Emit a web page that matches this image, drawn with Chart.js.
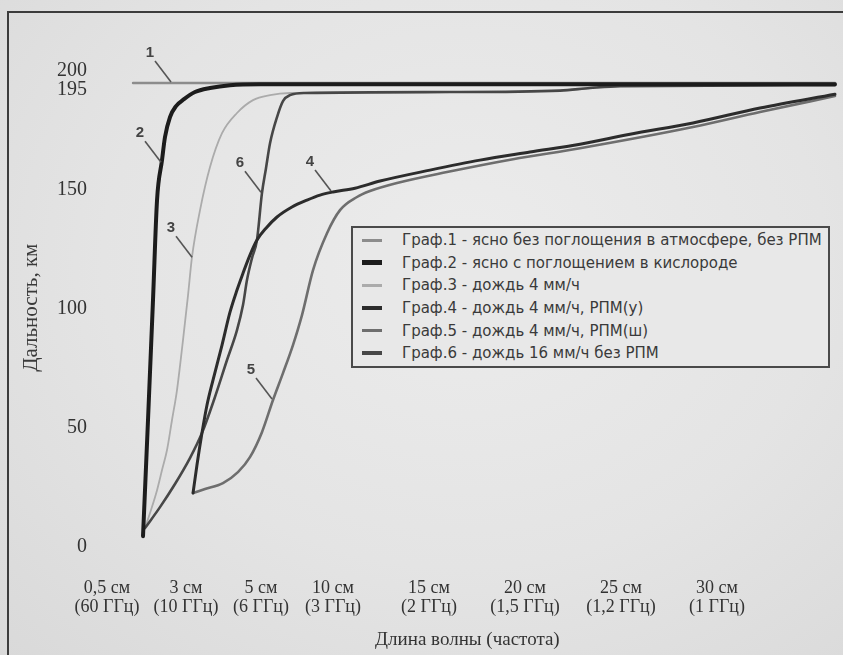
<!DOCTYPE html>
<html>
<head>
<meta charset="utf-8">
<script src="https://cdn.jsdelivr.net/npm/chart.js@4/dist/chart.umd.min.js"></script>
<style>
html,body{margin:0;padding:0;background:#e2e2e2;}
#wrap{position:relative;width:843px;height:655px;overflow:hidden;
  background:radial-gradient(ellipse at 55% 40%, #ececec 0%, #e4e4e4 55%, #d9d9d9 100%);}
#frame{position:absolute;left:7px;top:11px;right:-10px;bottom:-10px;border-left:2px solid #3c3c3c;border-top:2px solid #3c3c3c;}
#c{position:absolute;left:0;top:0;}
#legend{position:absolute;left:351px;top:226px;width:475px;height:137px;padding-top:1px;
  border:2px solid #4a4a4a;background:#e8e8e8;font-family:"DejaVu Sans",sans-serif;font-size:15px;color:#3a3a3a;}
#legend .row{height:22.6px;display:flex;align-items:center;white-space:nowrap;}
#legend .sw{width:20px;margin-left:9px;margin-right:20px;}
</style>
</head>
<body>
<div id="wrap">
  <canvas id="c" width="843" height="655"></canvas>
  <div id="frame"></div>
  <div id="legend"></div>
</div>
<script>
// ---- Data (x in axis divisions, y in km) ----
const xTickPos    = [0.646, 1.469, 2.25, 3, 4, 5, 6, 7];
const xTickLabels = [
  ['0,5 см','(60 ГГц)'], ['3 см','(10 ГГц)'], ['5 см','(6 ГГц)'], ['10 см','(3 ГГц)'],
  ['15 см','(2 ГГц)'], ['20 см','(1,5 ГГц)'], ['25 см','(1,2 ГГц)'], ['30 см','(1 ГГц)']
];
const yTickVals = [0, 50, 100, 150, 195, 200];
const xTitle = 'Длина волны (частота)';
const yTitle = 'Дальность, км';

const seriesLabels = [
  'Граф.1 - ясно без поглощения в атмосфере, без РПМ',
  'Граф.2 - ясно с поглощением в кислороде',
  'Граф.3 - дождь 4 мм/ч',
  'Граф.4 - дождь 4 мм/ч, РПМ(у)',
  'Граф.5 - дождь 4 мм/ч, РПМ(ш)',
  'Граф.6 - дождь 16 мм/ч без РПМ'
];

const s1x = [0.917, 8.229];
const s1y = [195, 195];

const s2x = [1.021, 1.073, 1.125, 1.167, 1.219, 1.25, 1.302, 1.365, 1.448, 1.5625, 1.719, 1.927, 2.24, 8.229];
const s2y = [4.6, 53.4, 103.8, 145.8, 162.6, 172.3, 180.7, 185.3, 188.2, 191.2, 192.9, 194.1, 194.5, 194.5];

const s3x = [1.042, 1.094, 1.167, 1.219, 1.271, 1.323, 1.375, 1.4375, 1.490, 1.531, 1.615, 1.719, 1.844, 2.0, 2.167, 2.344, 2.552, 4.219, 5.365, 5.677, 5.990, 8.229];
const s3y = [8.0, 14.3, 23.9, 32.4, 40.8, 53.4, 66.0, 87.0, 105.9, 121.8, 141.6, 159.7, 173.9, 182.4, 187.8, 189.9, 190.8, 191.2, 191.8, 192.9, 193.7, 194.1];

const s4x = [1.542, 1.583, 1.635, 1.6875, 1.75, 1.844, 1.927, 2.0, 2.0625, 2.135, 2.208, 2.302, 2.417, 2.573, 2.729, 2.865, 3.0, 3.229, 3.490, 4.010, 4.531, 5.052, 5.573, 6.094, 6.75, 7.448, 8.229];
const s4y = [22.7, 34.5, 47.9, 59.7, 70.2, 84.9, 98.7, 108.0, 115.1, 122.7, 129.0, 134.0, 138.7, 142.9, 145.8, 147.9, 149.2, 150.8, 153.8, 158.4, 162.6, 166.0, 169.3, 173.5, 178.2, 184.5, 190.3];

const s5x = [1.542, 1.667, 1.854, 2.010, 2.135, 2.260, 2.375, 2.479, 2.583, 2.677, 2.792, 2.9375, 3.073, 3.25, 3.385, 3.667, 4.1875, 4.875, 5.573, 6.75, 7.448, 8.229];
const s5y = [22.7, 24.4, 26.9, 31.5, 37.8, 48.3, 61.8, 73.1, 84.9, 97.5, 116.4, 131.9, 141.6, 147.1, 149.6, 153.0, 157.6, 163.0, 167.6, 176.5, 182.8, 189.5];

const s6x = [1.042, 1.198, 1.354, 1.510, 1.635, 1.760, 1.896, 2.0, 2.0625, 2.104, 2.156, 2.208, 2.260, 2.302, 2.344, 2.417, 2.479, 2.552, 2.708, 4.219, 5.365, 5.677, 5.990, 8.229];
const s6y = [8.0, 16.8, 26.5, 37.4, 47.9, 61.8, 78.6, 91.2, 101.7, 112.2, 121.4, 129.0, 148.7, 159.2, 169.7, 180.7, 187.4, 189.9, 190.8, 191.2, 191.8, 192.9, 193.7, 194.1];

// curve-number callouts, anchored on the curves (data units)
const markerText = ['1', '2', '3', '4', '5', '6'];
const markerX    = [1.323, 1.219, 1.542, 2.990, 2.375, 2.260];
const markerY    = [195, 161.3, 121.4, 149.2, 61.8, 148.7];

// ---- Styles ----
const lineColors = ['#8c8c8c', '#1c1c1c', '#ababab', '#2c2c2c', '#6e6e6e', '#474747'];
const lineWidths = [2.5, 4, 1.8, 3, 2.6, 2.6];
const drawOrder  = [4, 0, 5, 1, 3, 2];
const legendWidths = [3, 5, 3, 3.5, 3, 4];

const xs = [s1x, s2x, s3x, s4x, s5x, s6x];
const ys = [s1y, s2y, s3y, s4y, s5y, s6y];

const datasets = seriesLabels.map((lab, i) => ({
  label: lab,
  data: xs[i].map((xv, j) => ({x: xv, y: ys[i][j]})),
  borderColor: lineColors[i],
  borderWidth: lineWidths[i],
  pointRadius: 0,
  fill: false,
  cubicInterpolationMode: 'monotone',
  borderCapStyle: 'round',
  order: drawOrder[i]
}));

const markerPlugin = {
  id: 'markers',
  afterDatasetsDraw(chart) {
    const {ctx, scales: {x, y}} = chart;
    ctx.save();
    ctx.strokeStyle = '#555';
    ctx.lineWidth = 1.6;
    ctx.fillStyle = '#444';
    ctx.font = 'bold 15px "Liberation Sans"';
    ctx.textAlign = 'center';
    ctx.textBaseline = 'middle';
    markerText.forEach((t, i) => {
      const px = x.getPixelForValue(markerX[i]);
      const py = y.getPixelForValue(markerY[i]);
      ctx.beginPath();
      ctx.moveTo(px - 17, py - 22);
      ctx.lineTo(px - 1, py - 1);
      ctx.stroke();
      ctx.fillText(t, px - 22, py - 30);
    });
    ctx.restore();
  }
};

const serif = 'Liberation Serif';
const chart = new Chart(document.getElementById('c'), {
  type: 'line',
  data: {datasets},
  plugins: [markerPlugin],
  options: {
    responsive: false,
    animation: false,
    layout: {padding: {top: 35.4, right: 1.2, left: 0, bottom: 0}},
    plugins: {legend: {display: false}, tooltip: {enabled: false}},
    scales: {
      x: {
        type: 'linear', min: 0.5, max: 8.3,
        grid: {display: false, drawTicks: false},
        border: {display: false},
        afterBuildTicks: s => { s.ticks = xTickPos.map(v => ({value: v})); },
        afterFit: s => { s.height = 96; },
        ticks: {
          autoSkip: false, maxRotation: 0, minRotation: 0, padding: 19,
          font: {family: serif, size: 18, lineHeight: 1.1}, color: '#333',
          callback: (v, i) => xTickLabels[i]
        },
        title: {display: true, text: xTitle, font: {family: serif, size: 19}, color: '#333', padding: {top: 0, bottom: 4}}
      },
      y: {
        type: 'linear', min: -5, max: 215,
        grid: {display: false, drawTicks: false},
        border: {display: false},
        afterBuildTicks: s => { s.ticks = yTickVals.map(v => ({value: v})); },
        afterFit: s => { s.width = 93; },
        ticks: {
          autoSkip: false, padding: 6,
          font: {family: serif, size: 20, lineHeight: 0.7}, color: '#333',
          callback: v => (v === 195 ? ['', String(v)] : String(v))
        },
        title: {display: true, text: yTitle + '    ', font: {family: serif, size: 21}, color: '#3a3a3a', padding: {top: 19, bottom: 0}}
      }
    }
  }
});

// HTML legend built from the chart's datasets
const leg = document.getElementById('legend');
chart.data.datasets.forEach((d, i) => {
  const row = document.createElement('div');
  row.className = 'row';
  const sw = document.createElement('div');
  sw.className = 'sw';
  sw.style.height = legendWidths[i] + 'px';
  sw.style.background = d.borderColor;
  const tx = document.createElement('span');
  tx.textContent = d.label;
  row.appendChild(sw);
  row.appendChild(tx);
  leg.appendChild(row);
});
</script>
</body>
</html>
